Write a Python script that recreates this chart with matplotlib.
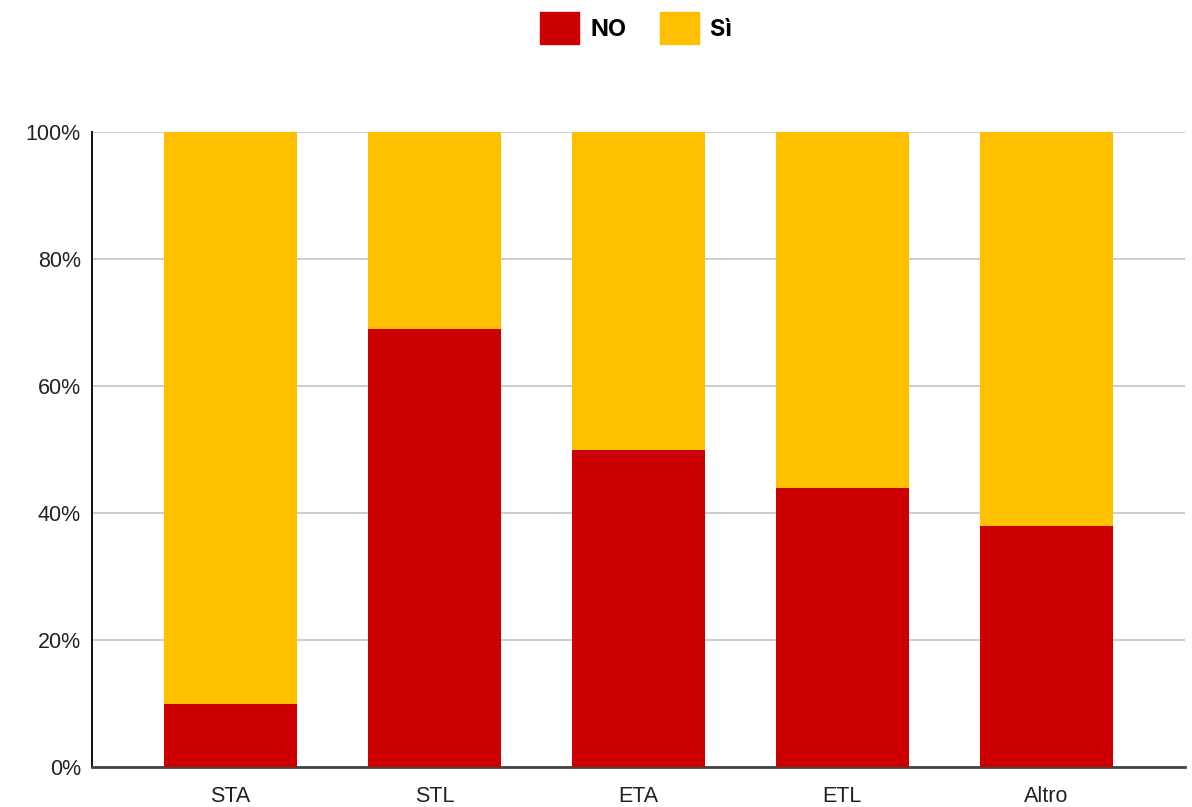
import matplotlib.pyplot as plt
from matplotlib.patches import Patch
from matplotlib.ticker import PercentFormatter

categories = ['STA', 'STL', 'ETA', 'ETL', 'Altro']
no_vals = [10, 69, 50, 44, 38]
si_vals = [100 - v for v in no_vals]

red = '#cc0000'
yellow = '#ffc000'

fig = plt.figure(figsize=(11.92, 8.07), dpi=100)
ax = fig.add_axes([92 / 1192, 40 / 807, 1093 / 1192, 635 / 807])

x = range(len(categories))
ax.bar(x, no_vals, width=0.65, color=red, zorder=3)
ax.bar(x, si_vals, width=0.65, bottom=no_vals, color=yellow, zorder=3)

ax.set_xlim(-0.68, 4.68)
ax.set_ylim(0, 100)
ax.set_yticks([0, 20, 40, 60, 80, 100])
ax.yaxis.set_major_formatter(PercentFormatter(decimals=0))
ax.set_xticks(list(x))
ax.set_xticklabels(categories)
ax.tick_params(length=0, labelsize=15.5, colors='#222222')
ax.tick_params(axis='y', pad=8)
ax.tick_params(axis='x', pad=14)
for lab in ax.get_xticklabels() + ax.get_yticklabels():
    lab.set_family('Liberation Sans')

ax.grid(axis='y', color='#cccccc', linewidth=1.4, zorder=0)
ax.spines['top'].set_visible(False)
ax.spines['right'].set_visible(False)
ax.spines['left'].set_color('#111111')
ax.spines['left'].set_linewidth(1.4)
ax.spines['bottom'].set_color('#444444')
ax.spines['bottom'].set_linewidth(2)

handles = [Patch(color=red, label='NO'), Patch(color=yellow, label='Sì')]
fig.legend(handles=handles, loc='center', bbox_to_anchor=(636 / 1192, 1 - 28 / 807),
           ncol=2, frameon=False, handlelength=1.65, handleheight=1.65,
           handletextpad=0.5, columnspacing=1.4,
           prop={'family': 'Inter', 'weight': 'bold', 'size': 17})

fig.savefig('out.png', dpi=100)
